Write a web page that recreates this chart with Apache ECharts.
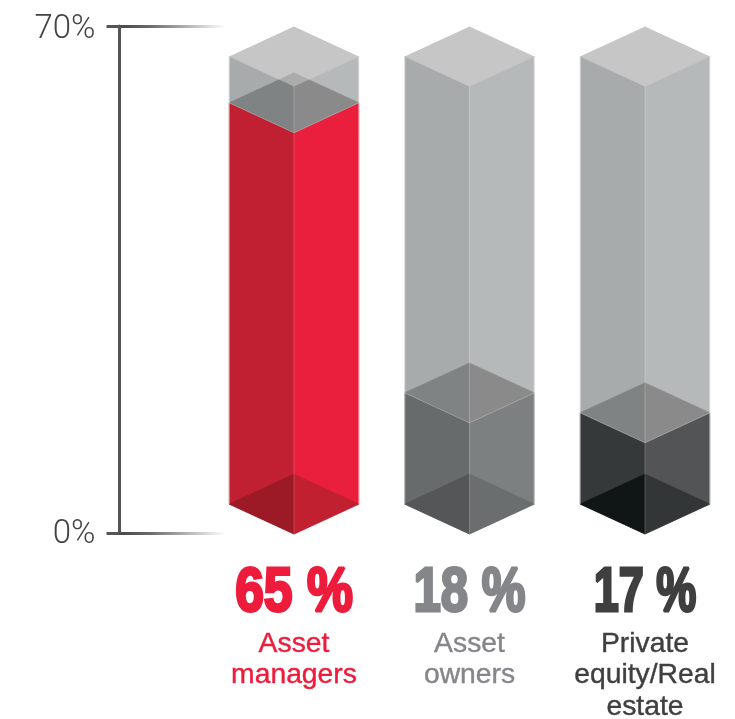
<!DOCTYPE html>
<html>
<head>
<meta charset="utf-8">
<title>Share by investor type</title>
<script src="https://cdn.jsdelivr.net/npm/echarts@6/dist/echarts.min.js"></script>
<style>
  html, body { margin: 0; padding: 0; background: #fff; }
  #chart { width: 735px; height: 719px; }
</style>
</head>
<body>
<div id="chart"></div>
<script>
// first category is empty: it sits on the y axis so the gradient lines can start there
const categories = ['', 'Asset\nmanagers', 'Asset\nowners', 'Private\nequity/Real\nestate'];
// printed shares
const shares = [65, 18, 17];
// fill heights as drawn, read against the 0-70 axis (the picture is not to scale with the printed shares)
const fillLevels = [55.4, 15.35, 12.6];
const glassLevels = [61.8, 61.8, 61.8];
const axisTicks = [0, 70];

const textColors = ['#ee1c3c', '#85868a', '#3f3f40'];
const sideColors = [['#c12032', '#ea1f3d'], ['#686b6b', '#7d8080'], ['#363939', '#535455']];
const floorColors = [['#9b1a26', '#c02030'], ['#555657', '#6b6e6e'], ['#101516', '#333636']];
const surfaceColors = ['#808383', '#8a8a8b'];
const glassColors = ['#a8abab', '#b6b9b9'];
// how much each big number is squeezed, the original font has a narrow "1"
const numberSqueeze = [0.82, 0.78, 0.715];

const chart = echarts.init(document.getElementById('chart'));

function poly(points, fill, stroke) {
    return {
        type: 'polygon',
        shape: { points },
        style: { fill, stroke: stroke || fill, lineWidth: stroke ? 1 : 0.5 }
    };
}

// one isometric glass box with its fill, and the big share number below it
function renderBox(params, api) {
    const i = params.dataIndex;
    const x = api.coord([api.value(0), 0])[0];
    const y0 = api.coord([api.value(0), 0])[1] + 1;
    const yFill = api.coord([api.value(0), api.value(1)])[1] + 1;
    const yGlass = api.coord([api.value(0), api.value(2)])[1] + 1;
    const w = api.size([1, 0])[0] * 0.37;
    const d = w * 0.4615;
    const l = x - w, r = x + w;

    const rhomb = (yFront, colors) => [
        poly([[l, yFront - d], [x, yFront - 2 * d], [x, yFront]], colors[0]),
        poly([[r, yFront - d], [x, yFront - 2 * d], [x, yFront]], colors[1])
    ];

    const children = [
        // glass walls
        poly([[l, yGlass - d], [x, yGlass], [x, y0], [l, y0 - d]], glassColors[0]),
        poly([[r, yGlass - d], [x, yGlass], [x, y0], [r, y0 - d]], glassColors[1]),
        // filled part
        poly([[l, yFill - d], [x, yFill], [x, y0], [l, y0 - d]], sideColors[i][0]),
        poly([[r, yFill - d], [x, yFill], [x, y0], [r, y0 - d]], sideColors[i][1]),
        ...rhomb(y0, floorColors[i]),
        ...rhomb(yFill, surfaceColors),
        // thin light edges
        { type: 'line', shape: { x1: l, y1: yGlass - d, x2: l, y2: y0 - d }, style: { stroke: 'rgba(255,255,255,0.45)', lineWidth: 1.5 } },
        { type: 'line', shape: { x1: r, y1: yGlass - d, x2: r, y2: y0 - d }, style: { stroke: 'rgba(255,255,255,0.45)', lineWidth: 1.5 } },
        { type: 'line', shape: { x1: x, y1: yGlass, x2: x, y2: y0 }, style: { stroke: 'rgba(255,255,255,0.18)', lineWidth: 1 } },
        { type: 'polyline', shape: { points: [[l, yFill - d], [x, yFill], [r, yFill - d]] }, style: { stroke: 'rgba(255,255,255,0.22)', lineWidth: 1, fill: null } },
        // glass lid, see-through so the fill shows where they overlap
        {
            type: 'polygon',
            shape: { points: [[l, yGlass - d], [x, yGlass - 2 * d], [r, yGlass - d], [x, yGlass]] },
            style: { fill: '#b6b6b6', opacity: 0.78 }
        },
        // no condensed heavy font installed, so squeeze the bold one
        {
            type: 'text',
            x: x,
            y: y0 + 60,
            scaleX: numberSqueeze[i],
            style: {
                x: 0,
                y: 0,
                text: shares[i] + ' %',
                align: 'center',
                verticalAlign: 'middle',
                fontFamily: '"Liberation Sans"',
                fontWeight: 'bold',
                fontSize: 63,
                fill: textColors[i],
                stroke: textColors[i],
                lineWidth: 3
            }
        }
    ];
    return { type: 'group', children };
}

const tickLabelStyle = { fontFamily: 'Roboto', fontWeight: 300, fontSize: 33, color: '#444' };

chart.setOption({
    animation: false,
    grid: { left: 118.5, right: 90, top: 26, bottom: 186, outerBoundsMode: 'none' },
    xAxis: {
        type: 'category',
        boundaryGap: false,
        data: categories,
        axisLine: { show: false },
        axisTick: { show: false },
        axisLabel: {
            interval: 0,
            margin: 95,
            formatter: (name, idx) => {
                if (!name) return '';
                return name.split('\n').map(s => `{n${idx - 1}|${s}}`).join('\n');
            },
            rich: Object.assign({}, ...textColors.map((c, k) => ({
                ['n' + k]: {
                    fontFamily: '"Liberation Sans"',
                    fontSize: 28.3,
                    lineHeight: 31.5,
                    color: c,
                    textBorderColor: c,
                    textBorderWidth: 0.4
                }
            })))
        }
    },
    yAxis: {
        type: 'value',
        min: axisTicks[0],
        max: axisTicks[1],
        interval: axisTicks[1],
        offset: -1,
        axisLine: { show: true, lineStyle: { color: '#555', width: 3 } },
        axisTick: { show: true, length: 13, lineStyle: { color: '#555', width: 3 } },
        axisLabel: {
            margin: 24,
            formatter: v => (v === axisTicks[1] ? `{hi|${v}%}` : `{lo|${v}%}`),
            rich: {
                hi: { ...tickLabelStyle, padding: [8, 0, 0, 0] },
                lo: { ...tickLabelStyle, padding: [3, 0, 0, 0] }
            }
        },
        splitLine: {
            show: true,
            lineStyle: {
                width: 3,
                color: new echarts.graphic.LinearGradient(118, 0, 226, 0, [
                    { offset: 0, color: 'rgba(70,70,70,1)' },
                    { offset: 0.3, color: 'rgba(70,70,70,0.8)' },
                    { offset: 1, color: 'rgba(70,70,70,0)' }
                ], true)
            }
        }
    },
    series: [{
        type: 'custom',
        renderItem: renderBox,
        encode: { x: 0, y: 1 },
        data: fillLevels.map((v, i) => [i + 1, v, glassLevels[i]]),
        clip: false
    }]
});
</script>
</body>
</html>
